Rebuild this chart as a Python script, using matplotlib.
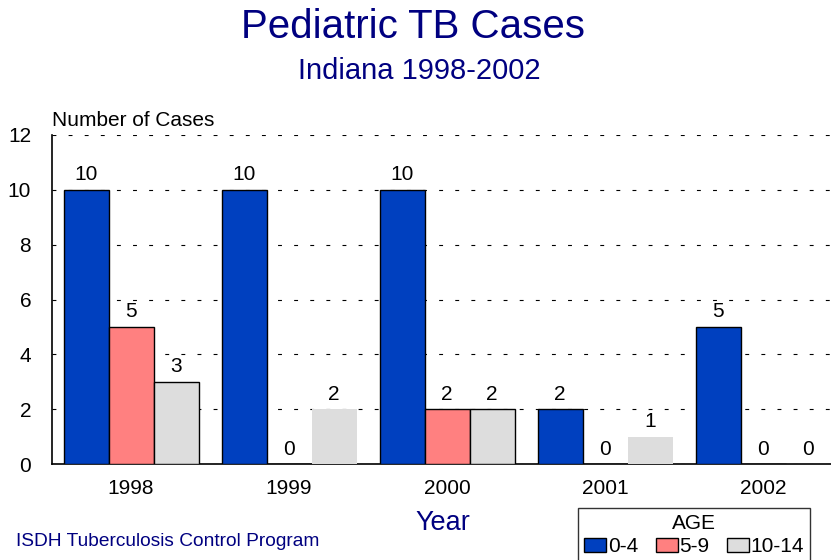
import numpy as np
import matplotlib.pyplot as plt

plt.rcParams['font.family'] = ['Liberation Sans', 'DejaVu Sans']

years = ['1998', '1999', '2000', '2001', '2002']
age_groups = ['0-4', '5-9', '10-14']
cases_0_4 = [10, 10, 10, 2, 5]
cases_5_9 = [5, 0, 2, 0, 0]
cases_10_14 = [3, 2, 2, 1, 0]

colors = ['#0040BF', '#FF8080', '#DDDDDD']
navy = '#000080'

fig = plt.figure(figsize=(8.31, 5.6), dpi=100)
ax = fig.add_axes([52 / 831, 1 - 464 / 560, 790 / 831, (464 - 135) / 560])

x = np.arange(len(years))
w = 45 / 158
series = [cases_0_4, cases_5_9, cases_10_14]
# the source only outlines some of the gray bars
gray_edges = ['black', 'none', 'black', 'none', 'none']
for i, vals in enumerate(series):
    pos = x + (i - 1) * w
    edges = gray_edges if i == 2 else 'black'
    ax.bar(pos, vals, w, color=colors[i], edgecolor=edges, linewidth=1,
           label=age_groups[i], zorder=3)
    for p, v in zip(pos, vals):
        ax.text(p, v + 0.2, str(v), ha='center', va='bottom', fontsize=15)

ax.set_xlim(-0.5, 4.5)
ax.set_ylim(0, 12)
ax.set_yticks(range(0, 13, 2))
ax.set_xticks(x)
ax.set_xticklabels(years)
ax.tick_params(axis='both', length=0, labelsize=15)
ax.tick_params(axis='y', pad=15)
ax.tick_params(axis='x', pad=11)
ax.yaxis.grid(True, color='black', linewidth=0.8, dashes=(3.5, 11), zorder=0)
ax.spines['top'].set_visible(False)
ax.spines['right'].set_visible(False)
ax.spines['left'].set_linewidth(1.2)
ax.spines['bottom'].set_linewidth(1.2)

ax.text(0, 1.015, 'Number of Cases', transform=ax.transAxes, fontsize=15,
        ha='left', va='bottom')

fig.text(413 / 831, 1 - 27 / 560, 'Pediatric TB Cases', color=navy, fontsize=29,
         ha='center', va='center')
fig.text(419 / 831, 1 - 71 / 560, 'Indiana 1998-2002', color=navy, fontsize=21,
         ha='center', va='center')
fig.text(443 / 831, 1 - 523 / 560, 'Year', color=navy, fontsize=19.5,
         ha='center', va='center')
fig.text(16 / 831, 1 - 542 / 560, 'ISDH Tuberculosis Control Program', color=navy,
         fontsize=13.8, ha='left', va='center')

leg = ax.legend(loc='upper left', bbox_to_anchor=(578 / 831, 1 - 508 / 560),
                bbox_transform=fig.transFigure, ncol=3, title='AGE',
                fontsize=15, title_fontsize=15, frameon=True, fancybox=False,
                handlelength=1.05, handleheight=0.6, handletextpad=0.08,
                columnspacing=0.85, borderpad=0.3, borderaxespad=0,
                labelspacing=0.2)
leg.get_frame().set_edgecolor('black')
leg.get_frame().set_linewidth(1)

fig.savefig('out.png', dpi=100)
